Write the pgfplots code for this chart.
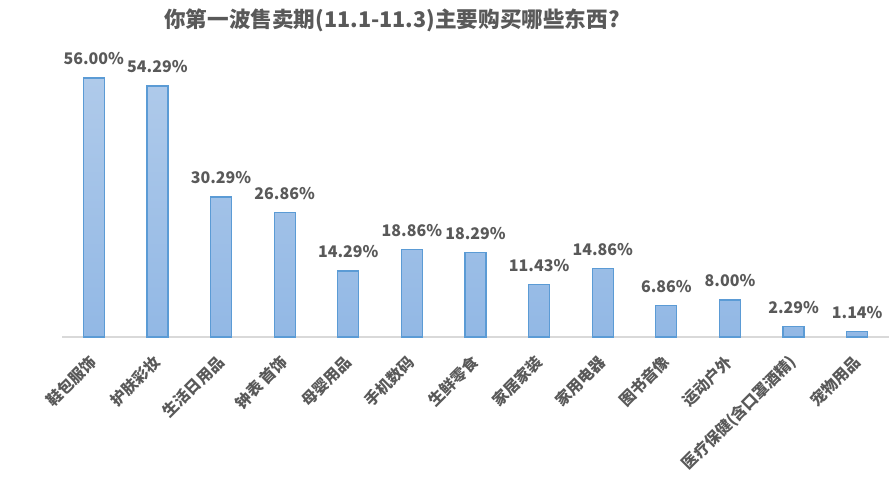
\documentclass[border=0pt]{standalone}
\usepackage{pgfplots}
\pgfplotsset{compat=1.18}
\usepackage{fontspec}
\setmainfont{Noto Sans CJK SC}
\definecolor{txt}{HTML}{595959}
\definecolor{bartop}{HTML}{AFCAEA}
\definecolor{barbot}{HTML}{92B8E5}
\definecolor{barline}{HTML}{5B9BD5}
\definecolor{axline}{HTML}{D9D9D9}
\begin{document}
\begin{tikzpicture}
\useasboundingbox (0,0) rectangle (891pt,484pt);
\node[text=txt, font=\fontsize{21.6}{26}\selectfont\bfseries] at (392pt,464pt) {你第一波售卖期(11.1-11.3)主要购买哪些东西?};
\begin{axis}[
  at={(62pt,147pt)}, anchor=south west,
  scale only axis, width=827pt, height=286.75pt,
  xmin=-0.5, xmax=12.5, ymin=0, ymax=62,
  axis x line*=bottom, axis y line=none,
  x axis line style={draw=axline, line width=1.2pt, -},
  xtick={0,...,12}, major tick length=0pt,
  xticklabels={鞋包服饰,护肤彩妆,生活日用品,钟表 首饰,母婴用品,手机数码,生鲜零食,家居家装,家用电器,图书音像,运动户外,医疗保健(含口罩酒精),宠物用品},
  xticklabel style={anchor=east, rotate=45, inner sep=0pt, text=txt, font=\fontsize{15.6}{18}\selectfont\bfseries},
  xticklabel shift=22pt,
  ytick=\empty,
  nodes near coords={\pgfmathprintnumber[fixed,fixed zerofill,precision=2,assume math mode=true]{\pgfplotspointmeta}\%},
  nodes near coords style={anchor=center, yshift=19pt, text=txt, font=\fontsize{16}{19}\selectfont\bfseries},
  clip=false,
]
\addplot[ybar, bar width=21pt, draw=barline, line width=1.2pt, top color=bartop, bottom color=barbot] coordinates {
(0,56.00) (1,54.29) (2,30.29) (3,26.86) (4,14.29) (5,18.86) (6,18.29) (7,11.43) (8,14.86) (9,6.86) (10,8.00) (11,2.29) (12,1.14)
};
\end{axis}
\end{tikzpicture}
\end{document}
